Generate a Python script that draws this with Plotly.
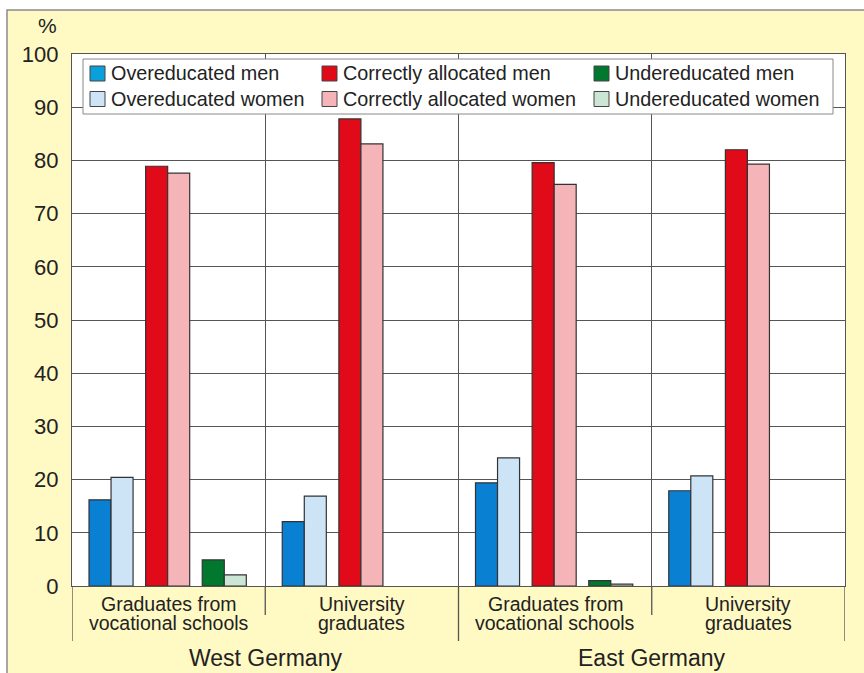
import plotly.graph_objects as go

# ---- data ----
regions = ["West Germany", "East Germany"]
cat_line1 = ["Graduates from", "University", "Graduates from", "University"]
cat_line2 = ["vocational schools", "graduates", "vocational schools", "graduates"]
cat_index = [0, 1, 2, 3]

series_names = ["Overeducated men", "Correctly allocated men", "Undereducated men",
                "Overeducated women", "Correctly allocated women", "Undereducated women"]
over_men = [16.2, 12.1, 19.4, 17.9]
over_women = [20.4, 16.9, 24.1, 20.7]
correct_men = [78.9, 87.8, 79.6, 82.0]
correct_women = [77.6, 83.1, 75.5, 79.3]
under_men = [4.9, None, 1.0, None]
under_women = [2.1, None, 0.35, None]

y_ticks = [0, 10, 20, 30, 40, 50, 60, 70, 80, 90, 100]

# ---- style ----
colors = {
    "Overeducated men": "#0A80D2",
    "Overeducated women": "#CDE4F6",
    "Correctly allocated men": "#E10A19",
    "Correctly allocated women": "#F4B4B8",
    "Undereducated men": "#00792F",
    "Undereducated women": "#CCE6D6",
}
legend_colors = dict(colors)
legend_colors["Overeducated men"] = "#0AA0DC"
values = {
    "Overeducated men": over_men,
    "Overeducated women": over_women,
    "Correctly allocated men": correct_men,
    "Correctly allocated women": correct_women,
    "Undereducated men": under_men,
    "Undereducated women": under_women,
}
bw = 0.114
offsets = {
    "Overeducated men": -0.412,
    "Overeducated women": -0.412 + bw,
    "Correctly allocated men": -0.119,
    "Correctly allocated women": -0.119 + bw,
    "Undereducated men": 0.174,
    "Undereducated women": 0.174 + bw,
}

FONT = "Liberation Sans, Arial, sans-serif"
TXT = "#222222"
YELLOW = "#FFF9C4"
GRID = "#555555"

fig = go.Figure()
for name in series_names:
    fig.add_trace(go.Bar(
        x=cat_index, y=values[name], name=name,
        offset=offsets[name], width=bw, showlegend=False,
        marker=dict(color=colors[name], line=dict(color="#333333", width=1.2)),
    ))

W, H = 864, 673
ml, mr, mt, mb = 72, 19, 54, 87
pw, ph = W - ml - mr, H - mt - mb

def px_x(p):
    return (p - ml) / pw

def px_y(p):
    return (H - mb - p) / ph

shapes = [
    # yellow figure panel
    dict(type="rect", xref="paper", yref="paper", x0=px_x(7), x1=px_x(880),
         y0=px_y(690), y1=px_y(10), fillcolor=YELLOW,
         line=dict(color="#8a8a8a", width=1.5), layer="below"),
    # white plot area
    dict(type="rect", xref="paper", yref="paper", x0=0, x1=1, y0=0, y1=1,
         fillcolor="white", line=dict(width=0), layer="below"),
]
# category dividers below the axis
for b in [-0.5, 0.5, 1.5, 2.5, 3.5]:
    long = b in (-0.5, 1.5, 3.5)
    shapes.append(dict(type="line", xref="x", yref="paper", x0=b, x1=b,
                       y0=0, y1=px_y(641 if long else 615),
                       line=dict(color=GRID, width=1.3)))

annotations = [
    dict(text="%", xref="paper", yref="paper", x=px_x(59), y=px_y(25),
         xanchor="right", yanchor="middle", showarrow=False,
         font=dict(size=21, color=TXT, family=FONT)),
]
for i in cat_index:
    annotations.append(dict(text=cat_line1[i], xref="x", yref="paper", x=i, y=px_y(603.5),
                            xanchor="center", yanchor="middle", showarrow=False,
                            font=dict(size=19.5, color=TXT, family=FONT)))
    annotations.append(dict(text=cat_line2[i], xref="x", yref="paper", x=i, y=px_y(623),
                            xanchor="center", yanchor="middle", showarrow=False,
                            font=dict(size=19.5, color=TXT, family=FONT)))
for k, r in enumerate(regions):
    annotations.append(dict(text=r, xref="x", yref="paper", x=2 * k + 0.5, y=px_y(658),
                            xanchor="center", yanchor="middle", showarrow=False,
                            font=dict(size=23, color=TXT, family=FONT)))

# ---- legend box (3 columns x 2 rows) ----
leg_box = (83, 833, 59, 114)
leg_cols = [90, 322, 594]      # swatch left edges (px)
leg_rows = [73.5, 99]          # row centres (px)
sw = 15
shapes.append(dict(type="rect", xref="paper", yref="paper",
                   x0=px_x(leg_box[0]), x1=px_x(leg_box[1]),
                   y0=px_y(leg_box[3]), y1=px_y(leg_box[2]),
                   fillcolor="white", line=dict(color="#888888", width=1), layer="above"))
for idx, name in enumerate(series_names):
    r, c = divmod(idx, 3)
    x0 = leg_cols[c]
    yc = leg_rows[r]
    shapes.append(dict(type="rect", xref="paper", yref="paper",
                       x0=px_x(x0), x1=px_x(x0 + sw),
                       y0=px_y(yc + sw / 2), y1=px_y(yc - sw / 2),
                       fillcolor=legend_colors[name], line=dict(color="#444444", width=1),
                       layer="above"))
    annotations.append(dict(text=name, xref="paper", yref="paper",
                            x=px_x(x0 + sw + 4), y=px_y(yc),
                            xanchor="left", yanchor="middle", showarrow=False,
                            font=dict(size=19.8, color=TXT, family=FONT)))

fig.update_layout(
    width=W, height=H,
    margin=dict(l=ml, r=mr, t=mt, b=mb, pad=0),
    paper_bgcolor="white", plot_bgcolor="white",
    font=dict(family=FONT, color=TXT),
    barmode="overlay",
    showlegend=False,
    xaxis=dict(
        range=[-0.5, 3.5], showticklabels=False, showgrid=False, zeroline=False,
        showline=True, mirror=True, linecolor=GRID, linewidth=1.3, ticks="",
        minor=dict(tickmode="array", tickvals=[0.5, 1.5, 2.5], showgrid=True,
                   gridcolor=GRID, gridwidth=1.3, ticks=""),
    ),
    yaxis=dict(
        range=[0, 100], tickmode="array", tickvals=y_ticks,
        showgrid=True, gridcolor=GRID, gridwidth=1.3, zeroline=False,
        showline=True, mirror=True, linecolor=GRID, linewidth=1.3,
        ticks="", ticklabelstandoff=8,
        tickfont=dict(size=22, color=TXT, family=FONT),
    ),
    shapes=shapes,
    annotations=annotations,
)

fig.write_html("out.html", config={"displayModeBar": False},
               post_script="document.body.style.margin='0';")
